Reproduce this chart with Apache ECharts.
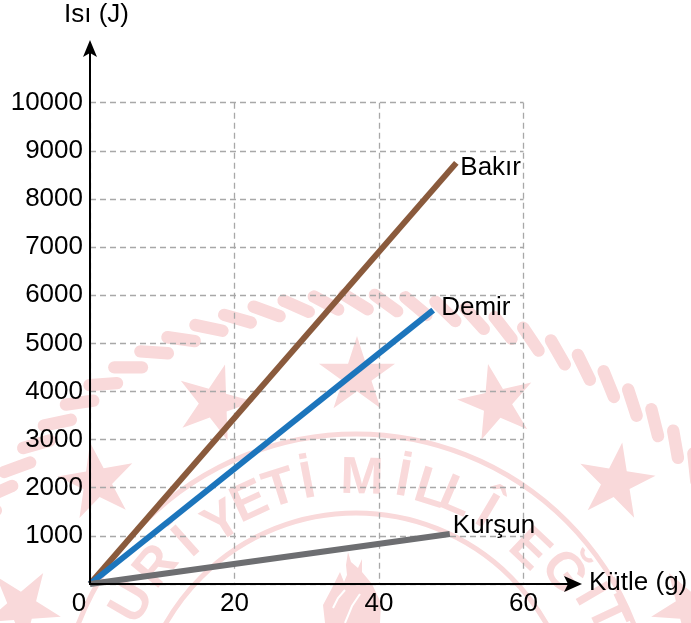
<!DOCTYPE html>
<html><head><meta charset="utf-8">
<style>html,body{margin:0;padding:0;background:#fff}#c{width:691px;height:623px}</style>
<script src="https://cdn.jsdelivr.net/npm/echarts@6/dist/echarts.min.js"></script>
</head><body><div id="c"></div>
<script>
const seriesNames = ['Bakır', 'Demir', 'Kurşun'];
const bakirX = [0, 50.7];
const bakirY = [0, 8750];
const demirX = [0, 47.5];
const demirY = [0, 5690];
const kursunX = [0, 49.8];
const kursunY = [0, 1040];
const xTicks = [0, 20, 40, 60];
const yMax = 10000;
const xTitle = 'Kütle (g)';
const yTitle = 'Isı (J)';

const FONT = '"Liberation Sans", Arial, sans-serif';
const FS = 26;
const PINK = '#f9d9da';
const CX = 356, CY = 732;

function zip(a, b) { return a.map((v, i) => [v, b[i]]); }

/* --- background seal --- */
const seal = [];
function rad(d) { return d * Math.PI / 180; }
for (let a = -76; a <= 76; a += 4) {
  seal.push({ type: 'rect', z: -10, silent: true,
    x: CX + 430 * Math.sin(rad(a)), y: CY - 430 * Math.cos(rad(a)),
    rotation: -rad(a + 32),
    shape: { x: -20, y: -6.2, width: 40, height: 12.4, r: 6.2 },
    style: { fill: PINK } });
}
function starPts(cx, cy, R, tilt) {
  const pts = [];
  for (let i = 0; i < 10; i++) {
    const r = i % 2 ? R * 0.38 : R, t = rad(tilt + i * 36);
    pts.push([cx + r * Math.sin(t), cy - r * Math.cos(t)]);
  }
  return pts;
}
[[22, 607, 32], [97, 482, -10], [214, 403, 16], [357, 376, 0], [497, 403, -13], [616, 482, 9], [690, 607, -32]]
  .forEach(s => seal.push({ type: 'polygon', z: -10, silent: true,
    shape: { points: starPts(s[0], s[1], 40, s[2]) }, style: { fill: PINK } }));
[298, 219].forEach(R => seal.push({ type: 'circle', z: -10, silent: true,
  shape: { cx: CX, cy: CY, r: R }, style: { fill: 'none', stroke: PINK, lineWidth: 5 } }));
[['U', 133, 603], ['R', 157, 567], ['İ', 187, 543], ['Y', 223, 523], ['E', 250, 503], ['T', 280, 490], ['İ', 308, 483],
 ['M', 362, 479], ['İ', 403, 481], ['L', 431, 490], ['L', 456, 498], ['Î', 486, 513], ['E', 529, 550], ['Ğ', 563, 573],
 ['İ', 590, 595], ['T', 606, 615]].forEach(l => {
  const a = Math.atan2(l[1] - CX, CY - l[2]);
  seal.push({ type: 'text', z: -10, silent: true, x: l[1], y: l[2], rotation: -a,
    style: { text: l[0], fontFamily: 'Liberation Sans', fontSize: 52, fontWeight: 'bold', fill: PINK, align: 'center', verticalAlign: 'middle' } });
});
seal.push({ type: 'polygon', z: -10, silent: true,
  shape: { points: [[348, 552], [351, 562], [358, 568], [362, 559], [362, 572], [372, 584], [381, 603], [380, 623], [325, 623], [323, 605], [331, 590], [340, 572], [344, 582], [347, 575], [346, 565]] },
  style: { fill: PINK } });
[[[333, 608], [338, 598], [345, 590]], [[345, 623], [352, 606], [360, 594]]].forEach(p => seal.push({ type: 'polyline', z: -9, silent: true,
  shape: { points: p }, style: { stroke: '#fff', fill: 'none', lineWidth: 2 } }));

const chart = echarts.init(document.getElementById('c'), null, { renderer: 'canvas' });
const lab = { fontFamily: FONT, fontSize: FS, color: '#000' };
const split = { show: true, lineStyle: { color: '#a8a8a8', type: [6, 4], width: 1.3 } };
const colors = ['#8a5a3c', '#1c75bc', '#6d6e71'];
const offsets = [[-4, 5], [0, -2], [-5, -8]];
const datasets = [zip(bakirX, bakirY), zip(demirX, demirY), zip(kursunX, kursunY)];
const plain = v => String(v);

chart.setOption({
  animation: false,
  grid: { left: 90, right: 167.5, top: 102.7, bottom: 39, containLabel: false },
  xAxis: { type: 'value', min: xTicks[0], max: xTicks[xTicks.length - 1], interval: xTicks[1] - xTicks[0],
    axisLine: { show: false }, axisTick: { show: false }, splitLine: split,
    axisLabel: Object.assign({ margin: 7, showMinLabel: false, formatter: plain }, lab) },
  yAxis: { type: 'value', min: 0, max: yMax, interval: 1000,
    axisLine: { show: false }, axisTick: { show: false }, splitLine: split,
    axisLabel: Object.assign({ margin: 7, showMinLabel: false, formatter: plain }, lab) },
  series: seriesNames.map((n, i) => ({
    name: n, type: 'line', data: datasets[i], showSymbol: false, silent: true,
    lineStyle: { color: colors[i], width: 6, cap: 'butt' },
    endLabel: Object.assign({ show: true, formatter: n, offset: offsets[i] }, lab)
  }))
});

const o = chart.convertToPixel({ gridIndex: 0 }, [0, 0]);
const AXIS = '#000';
chart.setOption({ graphic: seal.concat([
  { type: 'line', z: 50, silent: true, shape: { x1: o[0], y1: o[1], x2: 570, y2: o[1] }, style: { stroke: AXIS, lineWidth: 2 } },
  { type: 'line', z: 50, silent: true, shape: { x1: o[0], y1: o[1] + 1, x2: o[0], y2: 52 }, style: { stroke: AXIS, lineWidth: 2 } },
  { type: 'polygon', z: 50, silent: true, shape: { points: [[582, o[1]], [564, o[1] - 8], [568, o[1]], [564, o[1] + 8]] }, style: { fill: AXIS } },
  { type: 'polygon', z: 50, silent: true, shape: { points: [[o[0], 40], [o[0] - 7, 57], [o[0], 53], [o[0] + 7, 57]] }, style: { fill: AXIS } },
  { type: 'text', z: 50, silent: true, x: 79, y: 604, style: { text: String(xTicks[0]), fontFamily: 'Liberation Sans', fontSize: FS, fill: '#000', align: 'center', verticalAlign: 'middle' } },
  { type: 'text', z: 50, silent: true, x: 589, y: 583, style: { text: xTitle, fontFamily: 'Liberation Sans', fontSize: FS, fill: '#000', align: 'left', verticalAlign: 'middle' } },
  { type: 'text', z: 50, silent: true, x: 64, y: 15, style: { text: yTitle, fontFamily: 'Liberation Sans', fontSize: FS, fill: '#000', align: 'left', verticalAlign: 'middle' } }
]) });
</script></body></html>
